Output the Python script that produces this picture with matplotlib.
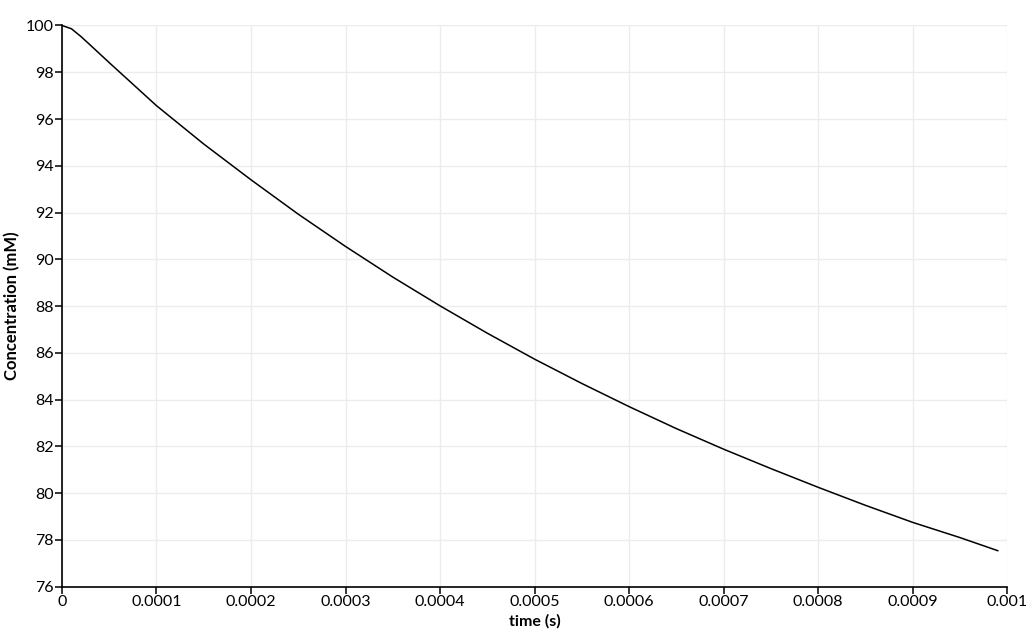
import numpy as np
import matplotlib
matplotlib.use("Agg")
from matplotlib import pyplot as plt

# values
time_s = [0, 0.00001, 0.00002, 0.00003, 0.00005, 0.0001, 0.00015, 0.0002, 0.00025,
          0.0003, 0.00035, 0.0004, 0.00045, 0.0005, 0.00055, 0.0006,
          0.00065, 0.0007, 0.00075, 0.0008, 0.00085, 0.0009, 0.00095, 0.00099]
conc_mM = [100.0, 99.86, 99.53, 99.16, 98.41, 96.57, 94.93, 93.40, 91.93,
           90.55, 89.24, 88.01, 86.84, 85.73, 84.69, 83.70,
           82.76, 81.88, 81.05, 80.25, 79.48, 78.75, 78.10, 77.54]

x_ticks = [0, 0.0001, 0.0002, 0.0003, 0.0004, 0.0005, 0.0006, 0.0007, 0.0008, 0.0009, 0.001]
x_tick_labels = ["0", "0.0001", "0.0002", "0.0003", "0.0004", "0.0005",
                 "0.0006", "0.0007", "0.0008", "0.0009", "0.001"]
y_ticks = [76, 78, 80, 82, 84, 86, 88, 90, 92, 94, 96, 98, 100]

plt.rcParams['font.family'] = ['Lato', 'DejaVu Sans']

fig = plt.figure(figsize=(10.33, 6.37), dpi=100)
ax = fig.add_axes([0.060, 0.079, 0.915, 0.881])

ax.plot(time_s, conc_mM, color="black", linewidth=1.1)

ax.set_xlim(0, 0.001)
ax.set_ylim(76, 100)
ax.set_xticks(x_ticks)
ax.set_xticklabels(x_tick_labels)
ax.set_yticks(y_ticks)

ax.grid(True, color="#ececec", linewidth=1.0)
ax.set_axisbelow(True)
for side in ["top", "right"]:
    ax.spines[side].set_visible(False)
for side in ["left", "bottom"]:
    ax.spines[side].set_linewidth(1.2)
    ax.spines[side].set_color("black")

ax.tick_params(direction="out", length=5, width=1.1, labelsize=11.5, pad=1, colors="black")
ax.set_xlabel("time (s)", fontsize=11.5, fontweight="bold", labelpad=4)
ax.set_ylabel("Concentration (mM)", fontsize=12, fontweight="bold", labelpad=4)

fig.savefig("out.png", dpi=100)
